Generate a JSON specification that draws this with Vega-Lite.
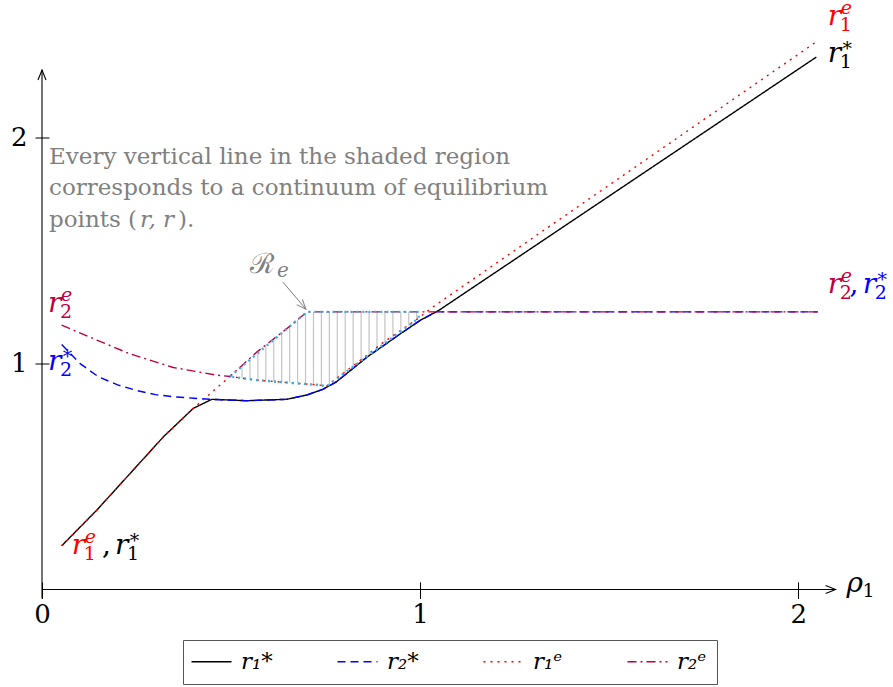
{
  "$schema": "https://vega.github.io/schema/vega-lite/v6.json",
  "autosize": "none",
  "width": 794,
  "height": 529,
  "padding": {"left": 42, "top": 69.5, "right": 57, "bottom": 88.5},
  "background": "white",
  "config": {"view": {"stroke": null}},
  "datasets": {
    "curves": [
      {"s": "r₁*", "x": 0.052, "y": 0.193}, {"s": "r₁*", "x": 0.145, "y": 0.351}, {"s": "r₁*", "x": 0.233, "y": 0.513},
      {"s": "r₁*", "x": 0.321, "y": 0.675}, {"s": "r₁*", "x": 0.4, "y": 0.801}, {"s": "r₁*", "x": 0.449, "y": 0.841},
      {"s": "r₁*", "x": 0.541, "y": 0.835}, {"s": "r₁*", "x": 0.647, "y": 0.841}, {"s": "r₁*", "x": 0.7, "y": 0.86},
      {"s": "r₁*", "x": 0.744, "y": 0.886}, {"s": "r₁*", "x": 0.779, "y": 0.919}, {"s": "r₁*", "x": 0.859, "y": 1.027},
      {"s": "r₁*", "x": 0.947, "y": 1.13}, {"s": "r₁*", "x": 1.0, "y": 1.19}, {"s": "r₁*", "x": 1.05, "y": 1.235},
      {"s": "r₁*", "x": 2.048, "y": 2.355},
      {"s": "r₂*", "x": 0.052, "y": 1.084}, {"s": "r₂*", "x": 0.1, "y": 1.0}, {"s": "r₂*", "x": 0.15, "y": 0.94},
      {"s": "r₂*", "x": 0.2, "y": 0.905}, {"s": "r₂*", "x": 0.25, "y": 0.88}, {"s": "r₂*", "x": 0.3, "y": 0.862},
      {"s": "r₂*", "x": 0.35, "y": 0.852}, {"s": "r₂*", "x": 0.4, "y": 0.846}, {"s": "r₂*", "x": 0.449, "y": 0.841},
      {"s": "r₂*", "x": 0.541, "y": 0.835}, {"s": "r₂*", "x": 0.647, "y": 0.841}, {"s": "r₂*", "x": 0.7, "y": 0.86},
      {"s": "r₂*", "x": 0.744, "y": 0.886}, {"s": "r₂*", "x": 0.779, "y": 0.919}, {"s": "r₂*", "x": 0.859, "y": 1.027},
      {"s": "r₂*", "x": 0.947, "y": 1.13}, {"s": "r₂*", "x": 1.0, "y": 1.19}, {"s": "r₂*", "x": 1.043, "y": 1.228},
      {"s": "r₂*", "x": 2.052, "y": 1.228},
      {"s": "r₁ᵉ", "x": 0.052, "y": 0.193}, {"s": "r₁ᵉ", "x": 0.145, "y": 0.351}, {"s": "r₁ᵉ", "x": 0.233, "y": 0.513},
      {"s": "r₁ᵉ", "x": 0.321, "y": 0.675}, {"s": "r₁ᵉ", "x": 0.4, "y": 0.801}, {"s": "r₁ᵉ", "x": 0.497, "y": 0.942},
      {"s": "r₁ᵉ", "x": 0.568, "y": 0.926}, {"s": "r₁ᵉ", "x": 0.656, "y": 0.914}, {"s": "r₁ᵉ", "x": 0.735, "y": 0.904},
      {"s": "r₁ᵉ", "x": 0.752, "y": 0.898}, {"s": "r₁ᵉ", "x": 0.902, "y": 1.092}, {"s": "r₁ᵉ", "x": 0.995, "y": 1.199},
      {"s": "r₁ᵉ", "x": 1.03, "y": 1.245}, {"s": "r₁ᵉ", "x": 2.045, "y": 2.419},
      {"s": "r₂ᵉ", "x": 0.052, "y": 1.169}, {"s": "r₂ᵉ", "x": 0.145, "y": 1.103}, {"s": "r₂ᵉ", "x": 0.233, "y": 1.042},
      {"s": "r₂ᵉ", "x": 0.347, "y": 0.982}, {"s": "r₂ᵉ", "x": 0.462, "y": 0.948}, {"s": "r₂ᵉ", "x": 0.497, "y": 0.942},
      {"s": "r₂ᵉ", "x": 0.568, "y": 1.05}, {"s": "r₂ᵉ", "x": 0.656, "y": 1.165}, {"s": "r₂ᵉ", "x": 0.701, "y": 1.228},
      {"s": "r₂ᵉ", "x": 2.052, "y": 1.228}
    ],
    "region": [
      {"o": 1, "x": 0.497, "y": 0.942}, {"o": 2, "x": 0.701, "y": 1.228}, {"o": 3, "x": 0.996, "y": 1.228},
      {"o": 4, "x": 0.996, "y": 1.199}, {"o": 5, "x": 0.752, "y": 0.898}, {"o": 6, "x": 0.735, "y": 0.904},
      {"o": 7, "x": 0.656, "y": 0.914}, {"o": 8, "x": 0.568, "y": 0.926}, {"o": 9, "x": 0.497, "y": 0.942}
    ],
    "hatch": [
      {"x": 0.529, "lo": 0.936, "hi": 0.987}, {"x": 0.55, "lo": 0.933, "hi": 1.016}, {"x": 0.571, "lo": 0.929, "hi": 1.046},
      {"x": 0.592, "lo": 0.926, "hi": 1.075}, {"x": 0.613, "lo": 0.922, "hi": 1.105}, {"x": 0.634, "lo": 0.918, "hi": 1.134},
      {"x": 0.655, "lo": 0.915, "hi": 1.164}, {"x": 0.676, "lo": 0.911, "hi": 1.193}, {"x": 0.697, "lo": 0.908, "hi": 1.222},
      {"x": 0.718, "lo": 0.904, "hi": 1.228}, {"x": 0.739, "lo": 0.9, "hi": 1.228}, {"x": 0.76, "lo": 0.908, "hi": 1.228},
      {"x": 0.781, "lo": 0.934, "hi": 1.228}, {"x": 0.802, "lo": 0.96, "hi": 1.228}, {"x": 0.823, "lo": 0.986, "hi": 1.228},
      {"x": 0.844, "lo": 1.012, "hi": 1.228}, {"x": 0.865, "lo": 1.037, "hi": 1.228}, {"x": 0.886, "lo": 1.063, "hi": 1.228},
      {"x": 0.907, "lo": 1.089, "hi": 1.228}, {"x": 0.928, "lo": 1.115, "hi": 1.228}, {"x": 0.949, "lo": 1.141, "hi": 1.228},
      {"x": 0.97, "lo": 1.167, "hi": 1.228}, {"x": 0.991, "lo": 1.193, "hi": 1.228}
    ],
    "axislines": [
      {"x": 0, "x2": 2.099, "y": 0, "y2": 0},
      {"x": 0, "x2": 0, "y": -0.04, "y2": 2.298}
    ],
    "mainr": [
      {"x": 2.078, "y": 2.497, "t": "r", "c": "#ff0000"},
      {"x": 2.078, "y": 2.334, "t": "r", "c": "#000000"},
      {"x": 2.078, "y": 1.31, "t": "r", "c": "#bf0040"},
      {"x": 2.171, "y": 1.31, "t": "r", "c": "#0000ff"},
      {"x": 0.016, "y": 1.228, "t": "r", "c": "#bf0040"},
      {"x": 0.016, "y": 0.97, "t": "r", "c": "#0000ff"},
      {"x": 0.079, "y": 0.159, "t": "r", "c": "#ff0000"},
      {"x": 0.193, "y": 0.159, "t": "r", "c": "#000000"}
    ],
    "supr": [
      {"x": 2.078, "y": 2.497, "t": "e", "c": "#ff0000"},
      {"x": 2.078, "y": 2.334, "t": "∗", "c": "#000000"},
      {"x": 2.078, "y": 1.31, "t": "e", "c": "#bf0040"},
      {"x": 2.171, "y": 1.31, "t": "∗", "c": "#0000ff"},
      {"x": 0.016, "y": 1.228, "t": "e", "c": "#bf0040"},
      {"x": 0.016, "y": 0.97, "t": "∗", "c": "#0000ff"},
      {"x": 0.079, "y": 0.159, "t": "e", "c": "#ff0000"},
      {"x": 0.193, "y": 0.159, "t": "∗", "c": "#000000"}
    ],
    "subr": [
      {"x": 2.078, "y": 2.497, "t": "1", "c": "#ff0000"},
      {"x": 2.078, "y": 2.334, "t": "1", "c": "#000000"},
      {"x": 2.078, "y": 1.31, "t": "2", "c": "#bf0040"},
      {"x": 2.171, "y": 1.31, "t": "2", "c": "#0000ff"},
      {"x": 0.016, "y": 1.228, "t": "2", "c": "#bf0040"},
      {"x": 0.016, "y": 0.97, "t": "2", "c": "#0000ff"},
      {"x": 0.079, "y": 0.159, "t": "1", "c": "#ff0000"},
      {"x": 0.193, "y": 0.159, "t": "1", "c": "#000000"}
    ],
    "commas": [
      {"x": 2.136, "y": 1.31, "t": ",", "c": "#0000ff"},
      {"x": 0.159, "y": 0.159, "t": ",", "c": "#000000"}
    ],
    "note": [
      {"x": 0.0185, "y": 1.884, "t": "Every vertical line in the shaded region"},
      {"x": 0.0185, "y": 1.745, "t": "corresponds to a continuum of equilibrium"},
      {"x": 0.0185, "y": 1.605, "t": "points ("}
    ]
  },
  "encoding": {
    "x": {"type": "quantitative", "scale": {"domain": [0, 2.1], "nice": false, "zero": false}},
    "y": {"type": "quantitative", "scale": {"domain": [-0.04, 2.3], "nice": false, "zero": false}}
  },
  "layer": [
    {
      "data": {"name": "hatch"},
      "mark": {"type": "rule", "color": "#c4c4c4", "strokeWidth": 1.2},
      "encoding": {
        "x": {"field": "x", "type": "quantitative", "axis": {"values": [0, 1, 2], "format": ".0f", "labelOverlap": false, "title": null, "domain": false, "grid": false, "offset": -16.6, "tickSize": 16.6, "tickColor": "black", "tickWidth": 1, "labelFont": "DejaVu Serif", "labelFontSize": 26, "labelColor": "black", "labelPadding": 3, "labelFlush": false}},
        "y": {"field": "lo", "type": "quantitative", "axis": {"values": [1, 2], "format": ".0f", "labelOverlap": false, "title": null, "domain": false, "grid": false, "offset": -7, "tickSize": 14, "tickColor": "black", "tickWidth": 1, "labelFont": "DejaVu Serif", "labelFontSize": 26, "labelColor": "black", "labelPadding": 8}},
        "y2": {"field": "hi"}
      }
    },
    {
      "data": {"name": "axislines"},
      "mark": {"type": "rule", "color": "black", "strokeWidth": 1.1},
      "encoding": {
        "x": {"field": "x", "type": "quantitative"},
        "x2": {"field": "x2"},
        "y": {"field": "y", "type": "quantitative"},
        "y2": {"field": "y2"}
      }
    },
    {
      "data": {"values": [{"x": 2.099, "y": 0}]},
      "mark": {"type": "point", "shape": "M-2,-0.8L0,0L-2,0.8", "size": 100, "filled": false, "stroke": "black", "strokeWidth": 1.1, "opacity": 1},
      "encoding": {"x": {"field": "x", "type": "quantitative"}, "y": {"field": "y", "type": "quantitative"}}
    },
    {
      "data": {"values": [{"x": 0, "y": 2.298}]},
      "mark": {"type": "point", "shape": "M-2,-0.8L0,0L-2,0.8", "size": 100, "angle": 270, "filled": false, "stroke": "black", "strokeWidth": 1.1, "opacity": 1},
      "encoding": {"x": {"field": "x", "type": "quantitative"}, "y": {"field": "y", "type": "quantitative"}}
    },
    {
      "data": {"name": "curves"},
      "mark": {"type": "line"},
      "encoding": {
        "x": {"field": "x", "type": "quantitative"},
        "y": {"field": "y", "type": "quantitative"},
        "strokeWidth": {"field": "s", "type": "nominal", "scale": {"domain": ["r₁*", "r₂*", "r₁ᵉ", "r₂ᵉ"], "range": [1.4, 1.4, 2.3, 2.3]}, "legend": null},
        "color": {"field": "s", "type": "nominal", "scale": {"domain": ["r₁*", "r₂*", "r₁ᵉ", "r₂ᵉ"], "range": ["#000000", "#0000ff", "#ff0000", "#bf0040"]},
          "legend": {"orient": "none", "legendX": 141, "legendY": 570.5, "direction": "horizontal", "columns": 4, "title": null, "symbolType": "M-2,0L2,0", "symbolSize": 400, "symbolOffset": 7, "symbolStrokeWidth": 2, "symbolFillColor": "transparent", "labelFont": "DejaVu Serif", "labelFontStyle": "italic", "labelFontSize": 23, "labelColor": "black", "labelOffset": 18, "columnPadding": 61, "padding": 10, "strokeColor": "#555555", "fillColor": "white", "labelLimit": 0}},
        "strokeDash": {"field": "s", "type": "nominal", "scale": {"domain": ["r₁*", "r₂*", "r₁ᵉ", "r₂ᵉ"], "range": [[1, 0], [8, 5], [2, 5], [9, 4, 2, 4]]},
          "legend": {"orient": "none", "legendX": 141, "legendY": 570.5, "direction": "horizontal", "columns": 4, "title": null, "symbolType": "M-2,0L2,0", "symbolSize": 400, "symbolOffset": 7, "symbolStrokeWidth": 2, "symbolFillColor": "transparent", "labelFont": "DejaVu Serif", "labelFontStyle": "italic", "labelFontSize": 23, "labelColor": "black", "labelOffset": 18, "columnPadding": 61, "padding": 10, "strokeColor": "#555555", "fillColor": "white", "labelLimit": 0}}
      }
    },
    {
      "data": {"name": "region"},
      "mark": {"type": "line", "color": "#3aaee2", "strokeWidth": 2.4, "strokeDash": [2, 4]},
      "encoding": {
        "x": {"field": "x", "type": "quantitative"},
        "y": {"field": "y", "type": "quantitative"},
        "order": {"field": "o", "type": "quantitative"}
      }
    },
    {
      "data": {"values": [{"x": 0.637, "y": 1.36, "x2": 0.698, "y2": 1.24}]},
      "mark": {"type": "rule", "color": "#808080", "strokeWidth": 1},
      "encoding": {
        "x": {"field": "x", "type": "quantitative"}, "x2": {"field": "x2"},
        "y": {"field": "y", "type": "quantitative"}, "y2": {"field": "y2"}
      }
    },
    {
      "data": {"values": [{"x": 0.698, "y": 1.24}]},
      "mark": {"type": "point", "shape": "M-2,-0.8L0,0L-2,0.8", "size": 90, "angle": 48, "filled": false, "stroke": "#808080", "strokeWidth": 1, "opacity": 1},
      "encoding": {"x": {"field": "x", "type": "quantitative"}, "y": {"field": "y", "type": "quantitative"}}
    },
    {
      "data": {"values": [{"x": 0.55, "y": 1.4, "t": "ℛ"}]},
      "mark": {"type": "text", "align": "left", "baseline": "alphabetic", "font": "DejaVu Serif", "fontSize": 28, "color": "#808080"},
      "encoding": {"x": {"field": "x", "type": "quantitative"}, "y": {"field": "y", "type": "quantitative"}, "text": {"field": "t"}}
    },
    {
      "data": {"values": [{"x": 0.55, "y": 1.4, "t": "e"}]},
      "mark": {"type": "text", "align": "left", "baseline": "alphabetic", "font": "DejaVu Serif", "fontStyle": "italic", "fontSize": 20, "color": "#808080", "dx": 27, "dy": 4},
      "encoding": {"x": {"field": "x", "type": "quantitative"}, "y": {"field": "y", "type": "quantitative"}, "text": {"field": "t"}}
    },
    {
      "data": {"name": "note"},
      "mark": {"type": "text", "align": "left", "baseline": "alphabetic", "font": "DejaVu Serif", "fontSize": 23, "color": "#808080"},
      "encoding": {"x": {"field": "x", "type": "quantitative"}, "y": {"field": "y", "type": "quantitative"}, "text": {"field": "t"}}
    },
    {
      "data": {"values": [{"x": 0.0185, "y": 1.605, "t": "r, r"}]},
      "mark": {"type": "text", "align": "left", "baseline": "alphabetic", "font": "DejaVu Serif", "fontStyle": "italic", "fontSize": 23, "color": "#808080", "dx": 91},
      "encoding": {"x": {"field": "x", "type": "quantitative"}, "y": {"field": "y", "type": "quantitative"}, "text": {"field": "t"}}
    },
    {
      "data": {"values": [{"x": 0.0185, "y": 1.605, "t": ")."}]},
      "mark": {"type": "text", "align": "left", "baseline": "alphabetic", "font": "DejaVu Serif", "fontSize": 23, "color": "#808080", "dx": 129},
      "encoding": {"x": {"field": "x", "type": "quantitative"}, "y": {"field": "y", "type": "quantitative"}, "text": {"field": "t"}}
    },
    {
      "data": {"name": "mainr"},
      "mark": {"type": "text", "align": "left", "baseline": "alphabetic", "font": "DejaVu Serif", "fontStyle": "italic", "fontSize": 28},
      "encoding": {"x": {"field": "x", "type": "quantitative"}, "y": {"field": "y", "type": "quantitative"}, "text": {"field": "t"}, "color": {"field": "c", "type": "nominal", "scale": null}}
    },
    {
      "data": {"name": "supr"},
      "mark": {"type": "text", "align": "left", "baseline": "alphabetic", "font": "DejaVu Serif", "fontStyle": "italic", "fontSize": 19, "dx": 13, "dy": -11},
      "encoding": {"x": {"field": "x", "type": "quantitative"}, "y": {"field": "y", "type": "quantitative"}, "text": {"field": "t"}, "color": {"field": "c", "type": "nominal", "scale": null}}
    },
    {
      "data": {"name": "subr"},
      "mark": {"type": "text", "align": "left", "baseline": "alphabetic", "font": "DejaVu Serif", "fontSize": 19, "dx": 12, "dy": 6},
      "encoding": {"x": {"field": "x", "type": "quantitative"}, "y": {"field": "y", "type": "quantitative"}, "text": {"field": "t"}, "color": {"field": "c", "type": "nominal", "scale": null}}
    },
    {
      "data": {"name": "commas"},
      "mark": {"type": "text", "align": "left", "baseline": "alphabetic", "font": "DejaVu Serif", "fontSize": 28},
      "encoding": {"x": {"field": "x", "type": "quantitative"}, "y": {"field": "y", "type": "quantitative"}, "text": {"field": "t"}, "color": {"field": "c", "type": "nominal", "scale": null}}
    },
    {
      "data": {"values": [{"x": 2.128, "y": -0.012, "t": "ρ"}]},
      "mark": {"type": "text", "align": "left", "baseline": "alphabetic", "font": "DejaVu Serif", "fontStyle": "italic", "fontSize": 28, "color": "black"},
      "encoding": {"x": {"field": "x", "type": "quantitative"}, "y": {"field": "y", "type": "quantitative"}, "text": {"field": "t"}}
    },
    {
      "data": {"values": [{"x": 2.128, "y": -0.012, "t": "1"}]},
      "mark": {"type": "text", "align": "left", "baseline": "alphabetic", "font": "DejaVu Serif", "fontSize": 19, "color": "black", "dx": 16, "dy": 5},
      "encoding": {"x": {"field": "x", "type": "quantitative"}, "y": {"field": "y", "type": "quantitative"}, "text": {"field": "t"}}
    }
  ]
}
